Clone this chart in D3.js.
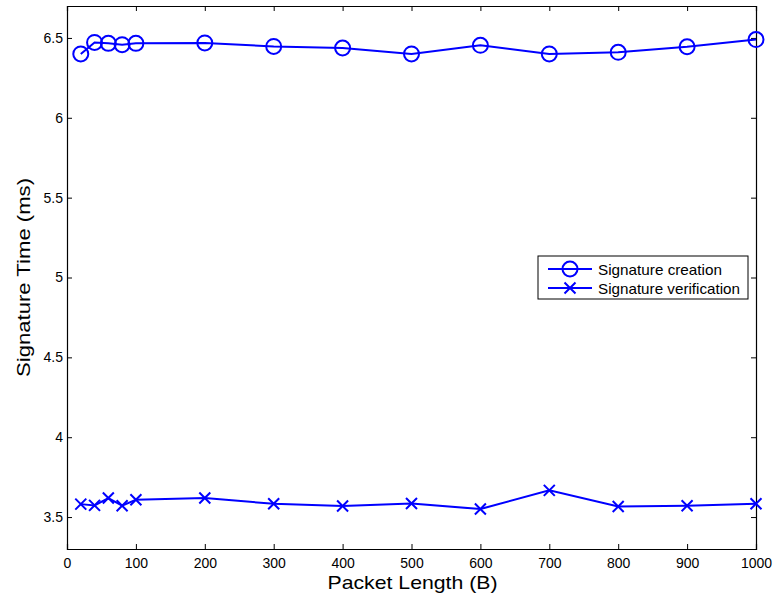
<!DOCTYPE html>
<html lang="en">
<head>
  <meta charset="UTF-8" />
  <title>Signature Time vs Packet Length</title>
  <style>
    html, body { margin: 0; padding: 0; background: #fff; }
    svg { display: block; }
    text { font-family: "Liberation Sans", Arial, sans-serif; fill: #000; }
  </style>
  <script src="https://cdn.jsdelivr.net/npm/d3@7"></script>
</head>
<body>
  <script>
    // packet lengths (B)
    const packetLength = [20, 40, 60, 80, 100, 200, 300, 400, 500, 600, 700, 800, 900, 1000];
    // signature times (ms)
    const creation = [6.40, 6.472, 6.466, 6.458, 6.466, 6.469, 6.447, 6.437, 6.40, 6.454, 6.40, 6.41, 6.445, 6.49];
    const verification = [3.581, 3.573, 3.619, 3.571, 3.608, 3.619, 3.583, 3.569, 3.585, 3.55, 3.667, 3.566, 3.571, 3.583];
    const xTicks = [0, 100, 200, 300, 400, 500, 600, 700, 800, 900, 1000];
    const yTicks = [3.5, 4, 4.5, 5, 5.5, 6, 6.5];
    const seriesNames = ["Signature creation", "Signature verification"];

    const W = 773, H = 596;
    const m = { left: 67, top: 6, right: 773 - 756, bottom: 596 - 549 };
    const iw = W - m.left - m.right, ih = H - m.top - m.bottom;
    const blue = "#0000ff";

    const svg = d3.select("body").append("svg").attr("width", W).attr("height", H);
    const g = svg.append("g").attr("transform", `translate(${m.left},${m.top})`);

    const x = d3.scaleLinear().domain([0, 1000]).range([0, iw]);
    const y = d3.scaleLinear().domain([3.3, 6.7]).range([ih, 0]);

    // axes, ticks pointing inward like matlab
    g.append("g").attr("transform", `translate(0,${ih})`)
      .call(d3.axisBottom(x).tickValues(xTicks).tickSize(-5).tickPadding(9).tickFormat(d3.format("d")));
    g.append("g")
      .call(d3.axisTop(x).tickValues(xTicks).tickSize(-5).tickFormat(""));
    g.append("g")
      .call(d3.axisLeft(y).tickValues(yTicks).tickSize(-5).tickPadding(4).tickFormat(d => String(d)));
    g.append("g").attr("transform", `translate(${iw},0)`)
      .call(d3.axisRight(y).tickValues(yTicks).tickSize(-5).tickFormat(""));
    g.selectAll(".domain").attr("stroke", "#000").attr("stroke-width", 1.2);
    g.selectAll(".tick line").attr("stroke", "#000");
    g.selectAll(".tick text").style("font-size", "14px").attr("fill", "#000");

    const line = d3.line().x((d, i) => x(packetLength[i])).y(d => y(d));

    g.append("path").datum(creation).attr("d", line)
      .attr("fill", "none").attr("stroke", blue).attr("stroke-width", 2);
    g.append("path").datum(verification).attr("d", line)
      .attr("fill", "none").attr("stroke", blue).attr("stroke-width", 2);

    g.selectAll(".circ").data(creation).join("circle")
      .attr("cx", (d, i) => x(packetLength[i])).attr("cy", d => y(d)).attr("r", 7.5)
      .attr("fill", "none").attr("stroke", blue).attr("stroke-width", 2);

    const cross = (sel, s) => sel.attr("d", `M${-s},${-s}L${s},${s}M${-s},${s}L${s},${-s}`)
      .attr("fill", "none").attr("stroke", blue).attr("stroke-width", 2);
    g.selectAll(".cross").data(verification).join("path")
      .attr("transform", (d, i) => `translate(${x(packetLength[i])},${y(d)})`)
      .call(cross, 5.5);

    // labels
    svg.append("text").attr("x", m.left + iw / 2 + 1).attr("y", 589)
      .attr("text-anchor", "middle").style("font-size", "19px")
      .attr("textLength", 170).attr("lengthAdjust", "spacingAndGlyphs")
      .text("Packet Length (B)");
    svg.append("text").attr("transform", `translate(30,${m.top + ih / 2}) rotate(-90)`)
      .attr("text-anchor", "middle").style("font-size", "19px")
      .attr("textLength", 199).attr("lengthAdjust", "spacingAndGlyphs")
      .text("Signature Time (ms)");

    // legend
    const lg = svg.append("g").attr("transform", "translate(538,256)");
    lg.append("rect").attr("width", 210).attr("height", 43)
      .attr("fill", "#fff").attr("stroke", "#000").attr("stroke-width", 1);
    const legendLen = [124, 142];
    seriesNames.forEach((name, i) => {
      const ry = 13 + i * 19;
      lg.append("line").attr("x1", 10).attr("x2", 54).attr("y1", ry).attr("y2", ry)
        .attr("stroke", blue).attr("stroke-width", 2);
      if (i === 0) {
        lg.append("circle").attr("cx", 32).attr("cy", ry).attr("r", 7.5)
          .attr("fill", "none").attr("stroke", blue).attr("stroke-width", 2);
      } else {
        lg.append("path").attr("transform", `translate(32,${ry})`).call(cross, 5.5);
      }
      lg.append("text").attr("x", 60).attr("y", ry + 6).style("font-size", "15px")
        .attr("textLength", legendLen[i]).attr("lengthAdjust", "spacingAndGlyphs")
        .text(name);
    });
  </script>
</body>
</html>
